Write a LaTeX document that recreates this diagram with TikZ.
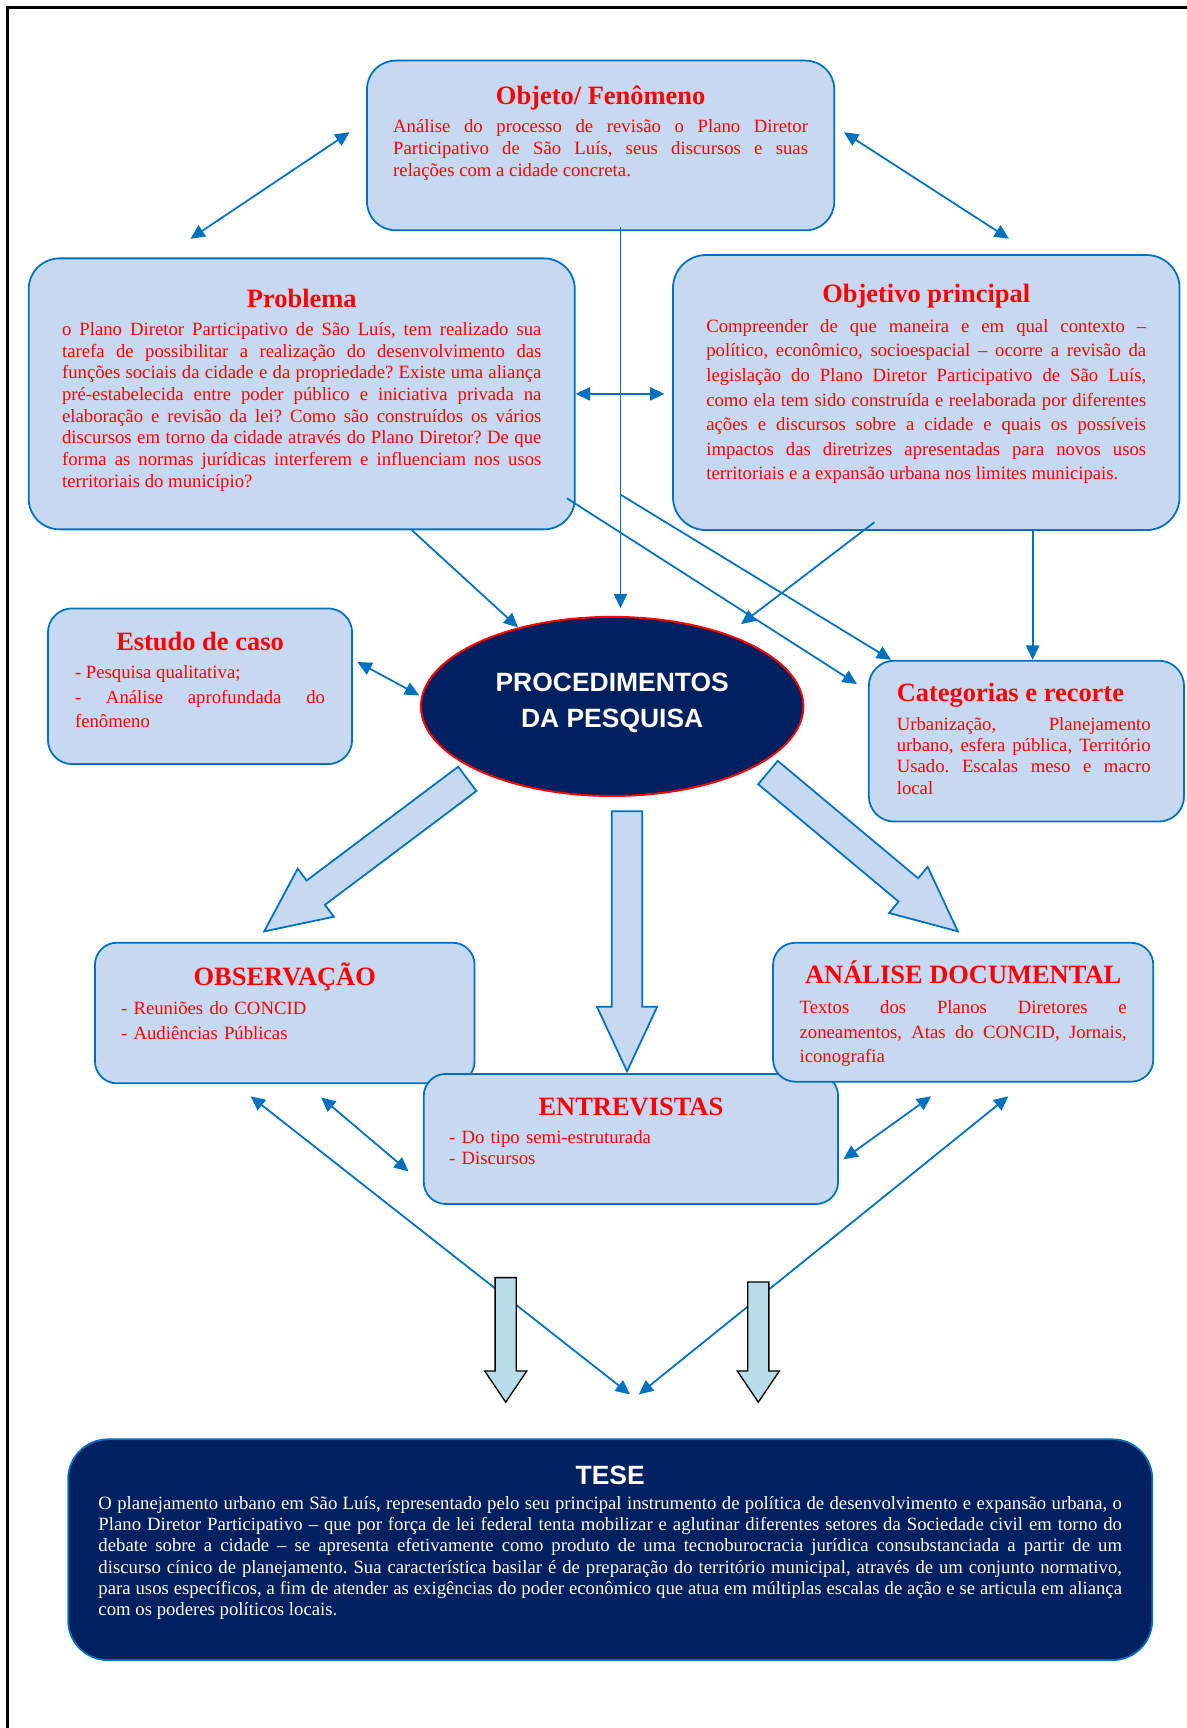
\documentclass[tikz,border=0pt]{standalone}
\usepackage{fontspec}
\setmainfont{Liberation Serif}
\newfontfamily\arial{Liberation Sans}
\usetikzlibrary{positioning,arrows.meta,shapes.geometric,shapes.arrows}

\definecolor{azul}{RGB}{0,112,192}
\definecolor{azulclaro}{RGB}{198,217,241}
\definecolor{marinho}{RGB}{0,32,96}
\definecolor{vermelho}{RGB}{255,0,0}
\definecolor{ciano}{RGB}{183,222,232}

\frenchspacing
\tolerance=10000
\hyphenpenalty=10000

\begin{document}
\begin{tikzpicture}[
	x=1pt, y=-1pt,
	caixa/.style={
		draw=azul,
		fill=azulclaro,
		line width=1.6pt,
		rounded corners=22pt,
		inner sep=0pt,
	},
	titulo/.style={
		font=\fontsize{24}{28}\selectfont\bfseries,
		text=vermelho,
		inner sep=0pt,
		text height=17pt,
		text depth=5pt,
	},
	corpo/.style={
		font=\fontsize{17}{#1}\selectfont,
		text=vermelho,
		align=justify,
		inner sep=0pt,
		text height=13pt,
	},
	corpo/.default=19.5,
	seta/.style={-{Triangle[length=13pt, width=12pt]}, draw=azul, line width=1.6pt},
	dupla/.style={{Triangle[length=13pt, width=12pt]}-{Triangle[length=13pt, width=12pt]}, draw=azul, line width=1.6pt},
	bloco/.style={
		single arrow,
		draw=azul,
		fill=azulclaro,
		line width=1.6pt,
		inner xsep=0pt,
		inner ysep=13pt,
		single arrow head extend=13.5pt,
		single arrow tip angle=50,
		anchor=tip,
	},
	setinha/.style={
		single arrow,
		draw=black,
		fill=ciano,
		line width=1.2pt,
		inner xsep=0pt,
		inner ysep=9pt,
		single arrow head extend=9.5pt,
		single arrow tip angle=68,
		anchor=tip,
		rotate=-90,
	},
]
\useasboundingbox (0,0) rectangle (1077,1568);
\draw[line width=3pt] (7,1568) -- (7,7) -- (1077,7);

\node[caixa, minimum width=424pt, minimum height=154pt, rounded corners=26pt] (objeto) at (545,132) {};
\node[titulo, below=23pt of objeto.north] (objeto-tit) {Objeto/ Fenômeno};
\node[corpo=20, text width=376.4pt, below=7.2pt of objeto-tit] (objeto-txt) {
	Análise do processo de revisão o Plano Diretor\linebreak
	Participativo de São Luís, seus discursos e suas\linebreak
	relações com a cidade concreta.
};

\node[caixa, minimum width=495.6pt, minimum height=245.9pt, rounded corners=28pt] (problema) at (273.8,357.4) {};
\node[titulo, below=28pt of problema.north] (problema-tit) {Problema};
\node[corpo=19.7, text width=435pt, below=7pt of problema-tit] (problema-txt) {
	o Plano Diretor Participativo de São Luís, tem realizado sua\linebreak
	tarefa de possibilitar a realização do desenvolvimento das\linebreak
	funções sociais da cidade e da propriedade? Existe uma aliança\linebreak
	pré-estabelecida entre poder público e iniciativa privada na\linebreak
	elaboração e revisão da lei? Como são construídos os vários\linebreak
	discursos em torno da cidade através do Plano Diretor? De que\linebreak
	forma as normas jurídicas interferem e influenciam nos usos\linebreak
	territoriais do município?
};

\node[caixa, minimum width=459.7pt, minimum height=249.6pt, rounded corners=30pt] (objetivo) at (840.5,356.2) {};
\node[titulo, below=27pt of objetivo.north] (objetivo-tit) {Objetivo principal};
\node[corpo=22.3, text width=399.2pt, below=8.4pt of objetivo-tit] (objetivo-txt) {
	Compreender de que maneira e em qual contexto –\linebreak
	político, econômico, socioespacial – ocorre a revisão da\linebreak
	legislação do Plano Diretor Participativo de São Luís,\linebreak
	como ela tem sido construída e reelaborada por diferentes\linebreak
	ações e discursos sobre a cidade e quais os possíveis\linebreak
	impactos das diretrizes apresentadas para novos usos\linebreak
	territoriais e a expansão urbana nos limites municipais.
};

\node[caixa, minimum width=276pt, minimum height=141.3pt] (estudo) at (181.5,622.7) {};
\node[titulo, below=22pt of estudo.north] (estudo-tit) {Estudo de caso};
\node[corpo=22, text width=226.8pt, below=7.1pt of estudo-tit] (estudo-txt) {
	- Pesquisa qualitativa;\par
	- Análise aprofundada do\linebreak
	fenômeno
};

\node[ellipse, draw=vermelho, fill=marinho, line width=1.8pt,
	minimum width=347pt, minimum height=162.5pt] (proc) at (555.5,641) {};
\node[font=\arial\bfseries\fontsize{24}{33}\selectfont, text=white, align=center, inner sep=0pt]
	(proc-tit) at ([yshift=3pt]proc.center) {PROCEDIMENTOS\\DA PESQUISA};

\node[caixa, minimum width=286pt, minimum height=146pt, rounded corners=23pt] (categorias) at (931.4,672.5) {};
\node[titulo, below right=20.5pt and 26pt of categorias.north west] (categorias-tit) {Categorias e recorte};
\node[corpo=19.1, text width=230.4pt, below=8.4pt of categorias-tit.south west, anchor=north west] (categorias-txt) {
	Urbanização, Planejamento\linebreak
	urbano, esfera pública, Território\linebreak
	Usado. Escalas meso e macro\linebreak
	local
};

\node[caixa, minimum width=344.5pt, minimum height=127.6pt, rounded corners=20pt] (observacao) at (258.4,919.2) {};
\node[titulo, below=22pt of observacao.north] (observacao-tit) {OBSERVAÇÃO};
\node[corpo=22, align=left, text width=300pt, below right=53pt and 24.3pt of observacao.north west] (observacao-txt) {
	- Reuniões do CONCID\\
	- Audiências Públicas
};

\node[caixa, minimum width=376pt, minimum height=118pt, rounded corners=20pt] (entrevistas) at (572.5,1033.5) {};
\node[titulo, below=21pt of entrevistas.north] (entrevistas-tit) {ENTREVISTAS};
\node[corpo=19.1, align=left, text width=320pt, below right=51pt and 23.6pt of entrevistas.north west] (entrevistas-txt) {
	- Do tipo semi-estruturada\\
	- Discursos
};

\node[caixa, minimum width=345pt, minimum height=126pt, rounded corners=20pt] (analise) at (874,918.5) {};
\node[titulo, below=20.8pt of analise.north] (analise-tit) {ANÁLISE DOCUMENTAL};
\node[corpo=22.2, text width=296.9pt, below=8.6pt of analise-tit] (analise-txt) {
	Textos dos Planos Diretores e\linebreak
	zoneamentos, Atas do CONCID, Jornais,\linebreak
	iconografia
};

\node[caixa, fill=marinho, minimum width=983.7pt, minimum height=200.3pt, rounded corners=36pt] (tese) at (553.7,1406.2) {};
\node[titulo, font=\arial\bfseries\fontsize{24}{28}\selectfont, text=white, below=24.5pt of tese.north] (tese-tit) {TESE};
\node[corpo=19.4, text=white, text width=928.7pt, below=4pt of tese-tit] (tese-txt) {
	O planejamento urbano em São Luís, representado pelo seu principal instrumento de política de desenvolvimento e expansão urbana, o\linebreak
	Plano Diretor Participativo – que por força de lei federal tenta mobilizar e aglutinar diferentes setores da Sociedade civil em torno do\linebreak
	debate sobre a cidade – se apresenta efetivamente como produto de uma tecnoburocracia jurídica consubstanciada a partir de um\linebreak
	discurso cínico de planejamento. Sua característica basilar é de preparação do território municipal, através de um conjunto normativo,\linebreak
	para usos específicos, a fim de atender as exigências do poder econômico que atua em múltiplas escalas de ação e se articula em aliança\linebreak
	com os poderes políticos locais.
};

% ligações entre as caixas
\draw[dupla] ([xshift=-15pt, yshift=12pt]objeto.west) -- ([xshift=-101pt, yshift=17pt]problema.north);
\draw[dupla] ([xshift=8pt, yshift=12pt]objeto.east) -- ([xshift=75pt, yshift=14pt]objetivo.north);
\draw[seta, shorten >=7pt] ([xshift=18pt, yshift=4pt]objeto.south) coordinate (eixo) -- (eixo |- proc.north);
\draw[dupla, shorten >=7pt] (problema.east) -- (problema.east -| objetivo.west);
\draw[seta] ([xshift=100pt]problema.south) -- (proc.140);
\draw[seta, shorten >=15pt] ([xshift=-47pt, yshift=8pt]objetivo.south) -- (proc.32);
\draw[seta] ([xshift=-8pt, yshift=29pt]problema.south east) -- ([xshift=-10pt, yshift=-22pt]categorias.north west);
\draw[seta] ([yshift=-243pt]eixo) -- ([xshift=21pt]categorias.north west);
\draw[seta] ([xshift=96.5pt]objetivo.south) coordinate (desce) -- (desce |- categorias.north);
\draw[dupla, shorten >=2pt] ([xshift=4pt, yshift=22pt]estudo.east) -- (proc.177);

\draw[dupla] ([xshift=33pt, yshift=-12pt]observacao.south) -- ([xshift=-13pt, yshift=-29.5pt]entrevistas.west);
\draw[dupla] ([xshift=-31pt, yshift=-11pt]observacao.south) -- ([xshift=18pt, yshift=40pt]tese.north);
\draw[dupla] ([xshift=-29pt, yshift=-12.5pt]analise.south) -- ([xshift=4pt, yshift=-18.5pt]entrevistas.east);
\draw[dupla] ([xshift=41pt, yshift=-12.5pt]analise.south) -- ([xshift=26pt, yshift=40pt]tese.north);

% setas largas
\node[bloco, rotate=-143.1, minimum height=230.5pt] (largo-obs) at (238.2,846.3) {};
\node[bloco, rotate=-90, minimum height=236pt] (largo-ent) at (569,974) {};
\node[bloco, rotate=-39.9, minimum height=224.6pt] (largo-doc) at (870.6,846.3) {};

\node[setinha, minimum height=113pt] (curta-a) at (458.9,1273.4) {};
\node[setinha, minimum height=109pt] (curta-b) at (688.1,1273.4) {};

\end{tikzpicture}
\end{document}
